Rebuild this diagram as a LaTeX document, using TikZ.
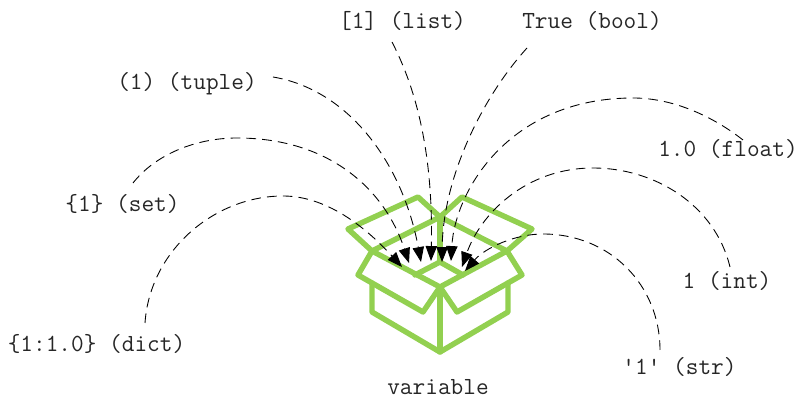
\documentclass[tikz,border=0pt]{standalone}
\usepackage{tikz}
\usetikzlibrary{arrows.meta}

\begin{document}
\begin{tikzpicture}[x=0.02cm, y=-0.02cm,
    lbl/.style={font=\ttfamily\fontsize{14}{16}\selectfont, text=black!85, inner sep=1pt},
    boxline/.style={color=boxgreen, line width=3.1pt, line join=round, line cap=round},
    flow/.style={dash pattern=on 5.5pt off 3.5pt, line width=0.5pt, -{Triangle[length=8.5pt, width=6.5pt]}}]
    \definecolor{boxgreen}{HTML}{92D050}
    \useasboundingbox (0,0) rectangle (796,398);

    \draw[boxline] (372,251) -- (348,229) -- (418,197) -- (440,217) -- (462,197) -- (532,229) -- (507,251);
    \draw[boxline] (372,251) -- (440,217) -- (507,251) -- (440,287) -- cycle;
    \draw[boxline] (440,217) -- (440,262);
    \draw[boxline] (415,275) -- (440,262) -- (463,275);
    \draw[boxline] (372,251) -- (358,275) -- (423,312) -- (440,287);
    \draw[boxline] (507,251) -- (522,275) -- (457,312) -- (440,287);
    \draw[boxline] (372,283) -- (372,312) -- (440,352) -- (508,312) -- (508,283);
    \draw[boxline] (440,287) -- (440,352);

    \node[lbl] (dict) at (96.5,344) {\{1:1.0\} (dict)};
    \node[lbl] (set) at (122.5,204) {\{1\} (set)};
    \node[lbl] (tuple) at (187,84) {(1) (tuple)};
    \node[lbl] (list) at (402.5,21) {[1] (list)};
    \node[lbl] (bool) at (592,21) {True (bool)};
    \node[lbl] (float) at (728,149) {1.0 (float)};
    \node[lbl] (int) at (727,281) {1 (int)};
    \node[lbl] (str) at (679.5,367) {\textquotesingle 1\textquotesingle{} (str)};
    \node[lbl] (variable) at (438,387) {variable};

    \coordinate (tipdict) at (402,267);
    \coordinate (tipset) at (409,263);
    \coordinate (tiptuple) at (421,262);
    \coordinate (tiplist) at (431,261);
    \coordinate (tipbool) at (442,262);
    \coordinate (tipfloat) at (451,261);
    \coordinate (tipint) at (462,267);
    \coordinate (tipstr) at (465,271);

    \draw[flow] ([shift={(48.5,-21)}]dict.center) .. controls (150,250) and (215,196) .. (283,196) .. controls (330,196) and (370,232) .. (tipdict);
    \draw[flow] ([shift={(10.5,-21)}]set.center) .. controls (155,155) and (195,138) .. (237,138) .. controls (330,138) and (385,190) .. (tipset);
    \draw[flow] ([shift={(86,-7)}]tuple.center) .. controls (350,90) and (403,165) .. (tiptuple);
    \draw[flow] ([shift={(-10.5,21)}]list.center) .. controls (422,100) and (433,170) .. (tiplist);
    \draw[flow] ([shift={(-65,27)}]bool.center) .. controls (480,100) and (443,180) .. (tipbool);
    \draw[flow] ([shift={(15,-9)}]float.center) .. controls (715,118) and (675,98) .. (633,98) .. controls (510,98) and (455,190) .. (tipfloat);
    \draw[flow] ([shift={(3,-14)}]int.center) .. controls (715,205) and (655,168) .. (593,168) .. controls (525,168) and (480,215) .. (tipint);
    \draw[flow] ([shift={(-19.5,-17)}]str.center) .. controls (660,285) and (610,234) .. (543,234) .. controls (515,234) and (485,248) .. (tipstr);
\end{tikzpicture}
\end{document}
